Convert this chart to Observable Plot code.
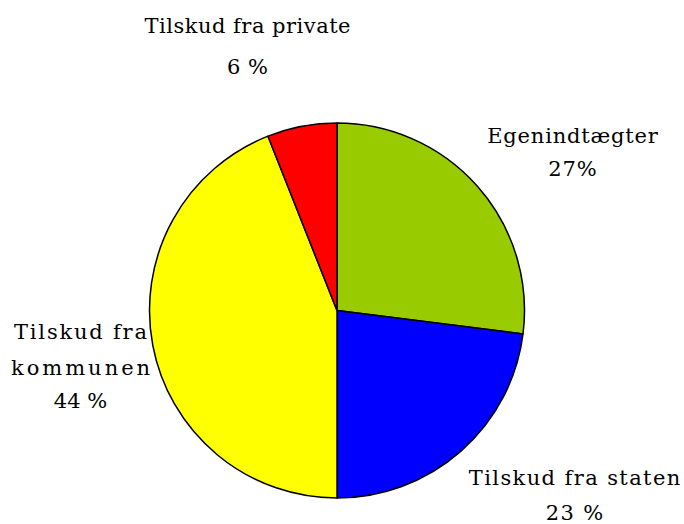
<!DOCTYPE html>
<html>
<head>
<meta charset="utf-8">
<script src="https://cdn.jsdelivr.net/npm/d3@7"></script>
<script src="https://cdn.jsdelivr.net/npm/@observablehq/plot@0.6"></script>
<style>
  html, body { margin: 0; padding: 0; background: #fff; }
  #chart { width: 684px; height: 524px; }
</style>
</head>
<body>
<div id="chart"></div>
<script>
// Data
const categories = ["Egenindtægter", "Tilskud fra staten", "Tilskud fra kommunen", "Tilskud fra private"];
const values = [27, 23, 44, 6];
const nameLines = [["Egenindtægter"], ["Tilskud fra staten"], ["Tilskud fra", "kommunen"], ["Tilskud fra private"]];
const pctLabels = ["27%", "23 %", "44 %", "6 %"];
const colors = ["#99CC00", "#0000FF", "#FFFF00", "#FF0000"];

const data = categories.map((c, i) => ({category: c, value: values[i]}));

// Layout (pixel positions of the label lines, and letter spacing per line)
const cx = 337, cy = 310.5, r = 187.5;
const labelLayout = [
  {x: 572, ys: [136, 169], ls: [0.8, 0.8]},
  {x: 574, ys: [478, 513], ls: [1.4, 1.4]},
  {x: 80, ys: [332, 368, 401], ls: [1.8, 3, 0]},
  {x: 247, ys: [26, 66.5], ls: [0.5, 0.5]}
];

const arcs = d3.pie().sort(null).value(d => d.value)(data);
const arcGen = d3.arc().innerRadius(0).outerRadius(r);

function pieMark(index, scales, vals, dims) {
  const g = d3.create("svg:g");
  g.attr("transform", `translate(${scales.x(cx)},${scales.y(cy)})`);
  g.selectAll("path")
    .data(arcs)
    .join("path")
    .attr("d", arcGen)
    .attr("fill", d => scales.color(d.data.category))
    .attr("stroke", "#000")
    .attr("stroke-width", 1.5)
    .attr("stroke-linejoin", "round");
  return g.node();
}

const textRows = [];
categories.forEach((c, i) => {
  const lines = [...nameLines[i], pctLabels[i]];
  lines.forEach((t, j) => textRows.push({
    text: t,
    x: labelLayout[i].x + labelLayout[i].ls[j] / 2,
    y: labelLayout[i].ys[j],
    ls: labelLayout[i].ls[j]
  }));
});

const chart = Plot.plot({
  width: 684,
  height: 524,
  margin: 0,
  x: {type: "identity", axis: null},
  y: {type: "identity", axis: null},
  color: {domain: categories, range: colors},
  style: {fontFamily: "'DejaVu Serif', serif", background: "#fff"},
  marks: [
    pieMark,
    Plot.text(textRows, {x: "x", y: "y", text: "text", fontSize: 21, fill: "#000"})
  ]
});

// apply per-line letter spacing
const spacingByText = new Map(textRows.map(d => [d.text, d.ls]));
d3.select(chart).selectAll("text").each(function () {
  const s = spacingByText.get(this.textContent);
  if (s) this.style.letterSpacing = s + "px";
});

document.getElementById("chart").appendChild(chart);
</script>
</body>
</html>
